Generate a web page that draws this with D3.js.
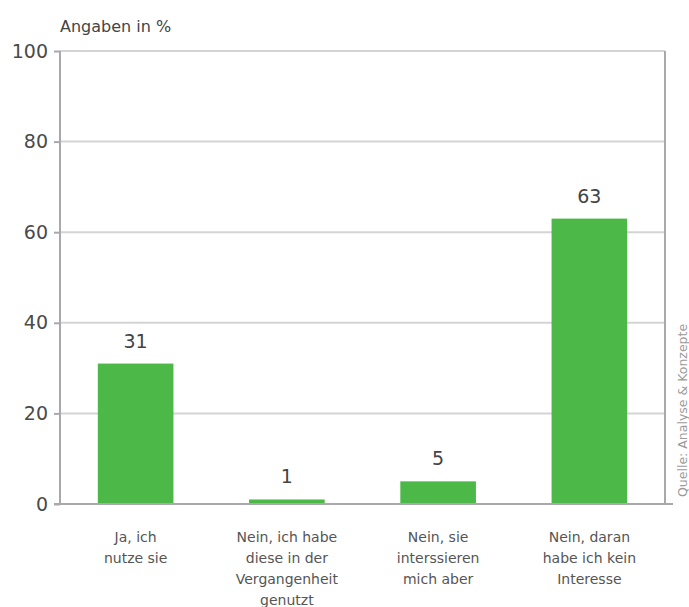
<!DOCTYPE html>
<html>
<head>
<meta charset="utf-8">
<script src="https://cdn.jsdelivr.net/npm/d3@7"></script>
<style>
  html, body { margin: 0; padding: 0; background: #fff; }
  svg { display: block; font-family: Tahoma, "DejaVu Sans", Verdana, sans-serif; }
</style>
</head>
<body>
<svg id="chart" width="689" height="607"></svg>
<script>
// Survey answers and their shares in percent
const categories = [
  ["Ja, ich", "nutze sie"],
  ["Nein, ich habe", "diese in der", "Vergangenheit", "genutzt"],
  ["Nein, sie", "interssieren", "mich aber"],
  ["Nein, daran", "habe ich kein", "Interesse"]
];
const values = [31, 1, 5, 63];
const yTicks = [0, 20, 40, 60, 80, 100];
const unitLabel = "Angaben in %";
const sourceLabel = "Quelle: Analyse & Konzepte";

const svg = d3.select("#chart");
const margin = { left: 60, right: 24, top: 51, bottom: 103 };
const width = 689, height = 607;
const x0 = margin.left, x1 = width - margin.right;
const y0 = height - margin.bottom, y1 = margin.top;

const x = d3.scaleBand()
  .domain(d3.range(values.length))
  .range([x0, x1])
  .paddingInner(0.5)
  .paddingOuter(0.25);
const y = d3.scaleLinear().domain([0, 100]).range([y0, y1]);

// Horizontal grid lines
svg.append("g")
  .selectAll("line")
  .data(yTicks.filter(t => t > 0))
  .join("line")
  .attr("x1", x0).attr("x2", x1)
  .attr("y1", d => y(d)).attr("y2", d => y(d))
  .attr("stroke", "#d4d4d4").attr("stroke-width", 2);

// Right frame line
svg.append("line")
  .attr("x1", x1).attr("x2", x1)
  .attr("y1", y(100)).attr("y2", y(0))
  .attr("stroke", "#a8a8ad").attr("stroke-width", 2);

// Bars
svg.append("g")
  .selectAll("rect")
  .data(values)
  .join("rect")
  .attr("x", (d, i) => x(i))
  .attr("width", x.bandwidth())
  .attr("y", d => y(d))
  .attr("height", d => y(0) - y(d))
  .attr("fill", "#4cb848");

// Value labels
svg.append("g")
  .selectAll("text")
  .data(values)
  .join("text")
  .attr("x", (d, i) => x(i) + x.bandwidth() / 2)
  .attr("y", d => y(d) - 16)
  .attr("text-anchor", "middle")
  .attr("font-size", 19)
  .attr("fill", "#444")
  .text(d => d);

// Y axis
const yAxis = svg.append("g")
  .attr("transform", `translate(${x0},0)`)
  .call(d3.axisLeft(y).tickValues(yTicks).tickSize(6).tickPadding(6));
yAxis.select(".domain").attr("stroke", "#a8a8ad").attr("stroke-width", 2)
  .attr("d", `M0,${y(100)}V${y(0)}`);
yAxis.selectAll(".tick line").attr("stroke", "#a8a8ad").attr("stroke-width", 2);
yAxis.selectAll(".tick text")
  .attr("font-size", 19).attr("fill", "#4a4a4a")
  .attr("font-family", "Tahoma, 'DejaVu Sans', Verdana, sans-serif");

// Baseline
svg.append("line")
  .attr("x1", x0 - 6).attr("x2", x1 + 8)
  .attr("y1", y(0)).attr("y2", y(0))
  .attr("stroke", "#a8a8ad").attr("stroke-width", 2);

// Category labels
const catG = svg.append("g")
  .selectAll("text")
  .data(categories)
  .join("text")
  .attr("text-anchor", "middle")
  .attr("font-size", 14)
  .attr("fill", "#555");
catG.selectAll("tspan")
  .data((d, i) => d.map(line => ({ line, i })))
  .join("tspan")
  .attr("x", d => x(d.i) + x.bandwidth() / 2)
  .attr("y", (d, j) => y(0) + 38 + j * 21)
  .text(d => d.line);

// Unit label
svg.append("text")
  .attr("x", 60).attr("y", 32)
  .attr("font-size", 16)
  .attr("fill", "#444")
  .text(unitLabel);

// Source note
svg.append("text")
  .attr("transform", `translate(687,${y(0) - 7}) rotate(-90)`)
  .attr("font-size", 12.5)
  .attr("fill", "#9a9a9a")
  .text(sourceLabel);
</script>
</body>
</html>
